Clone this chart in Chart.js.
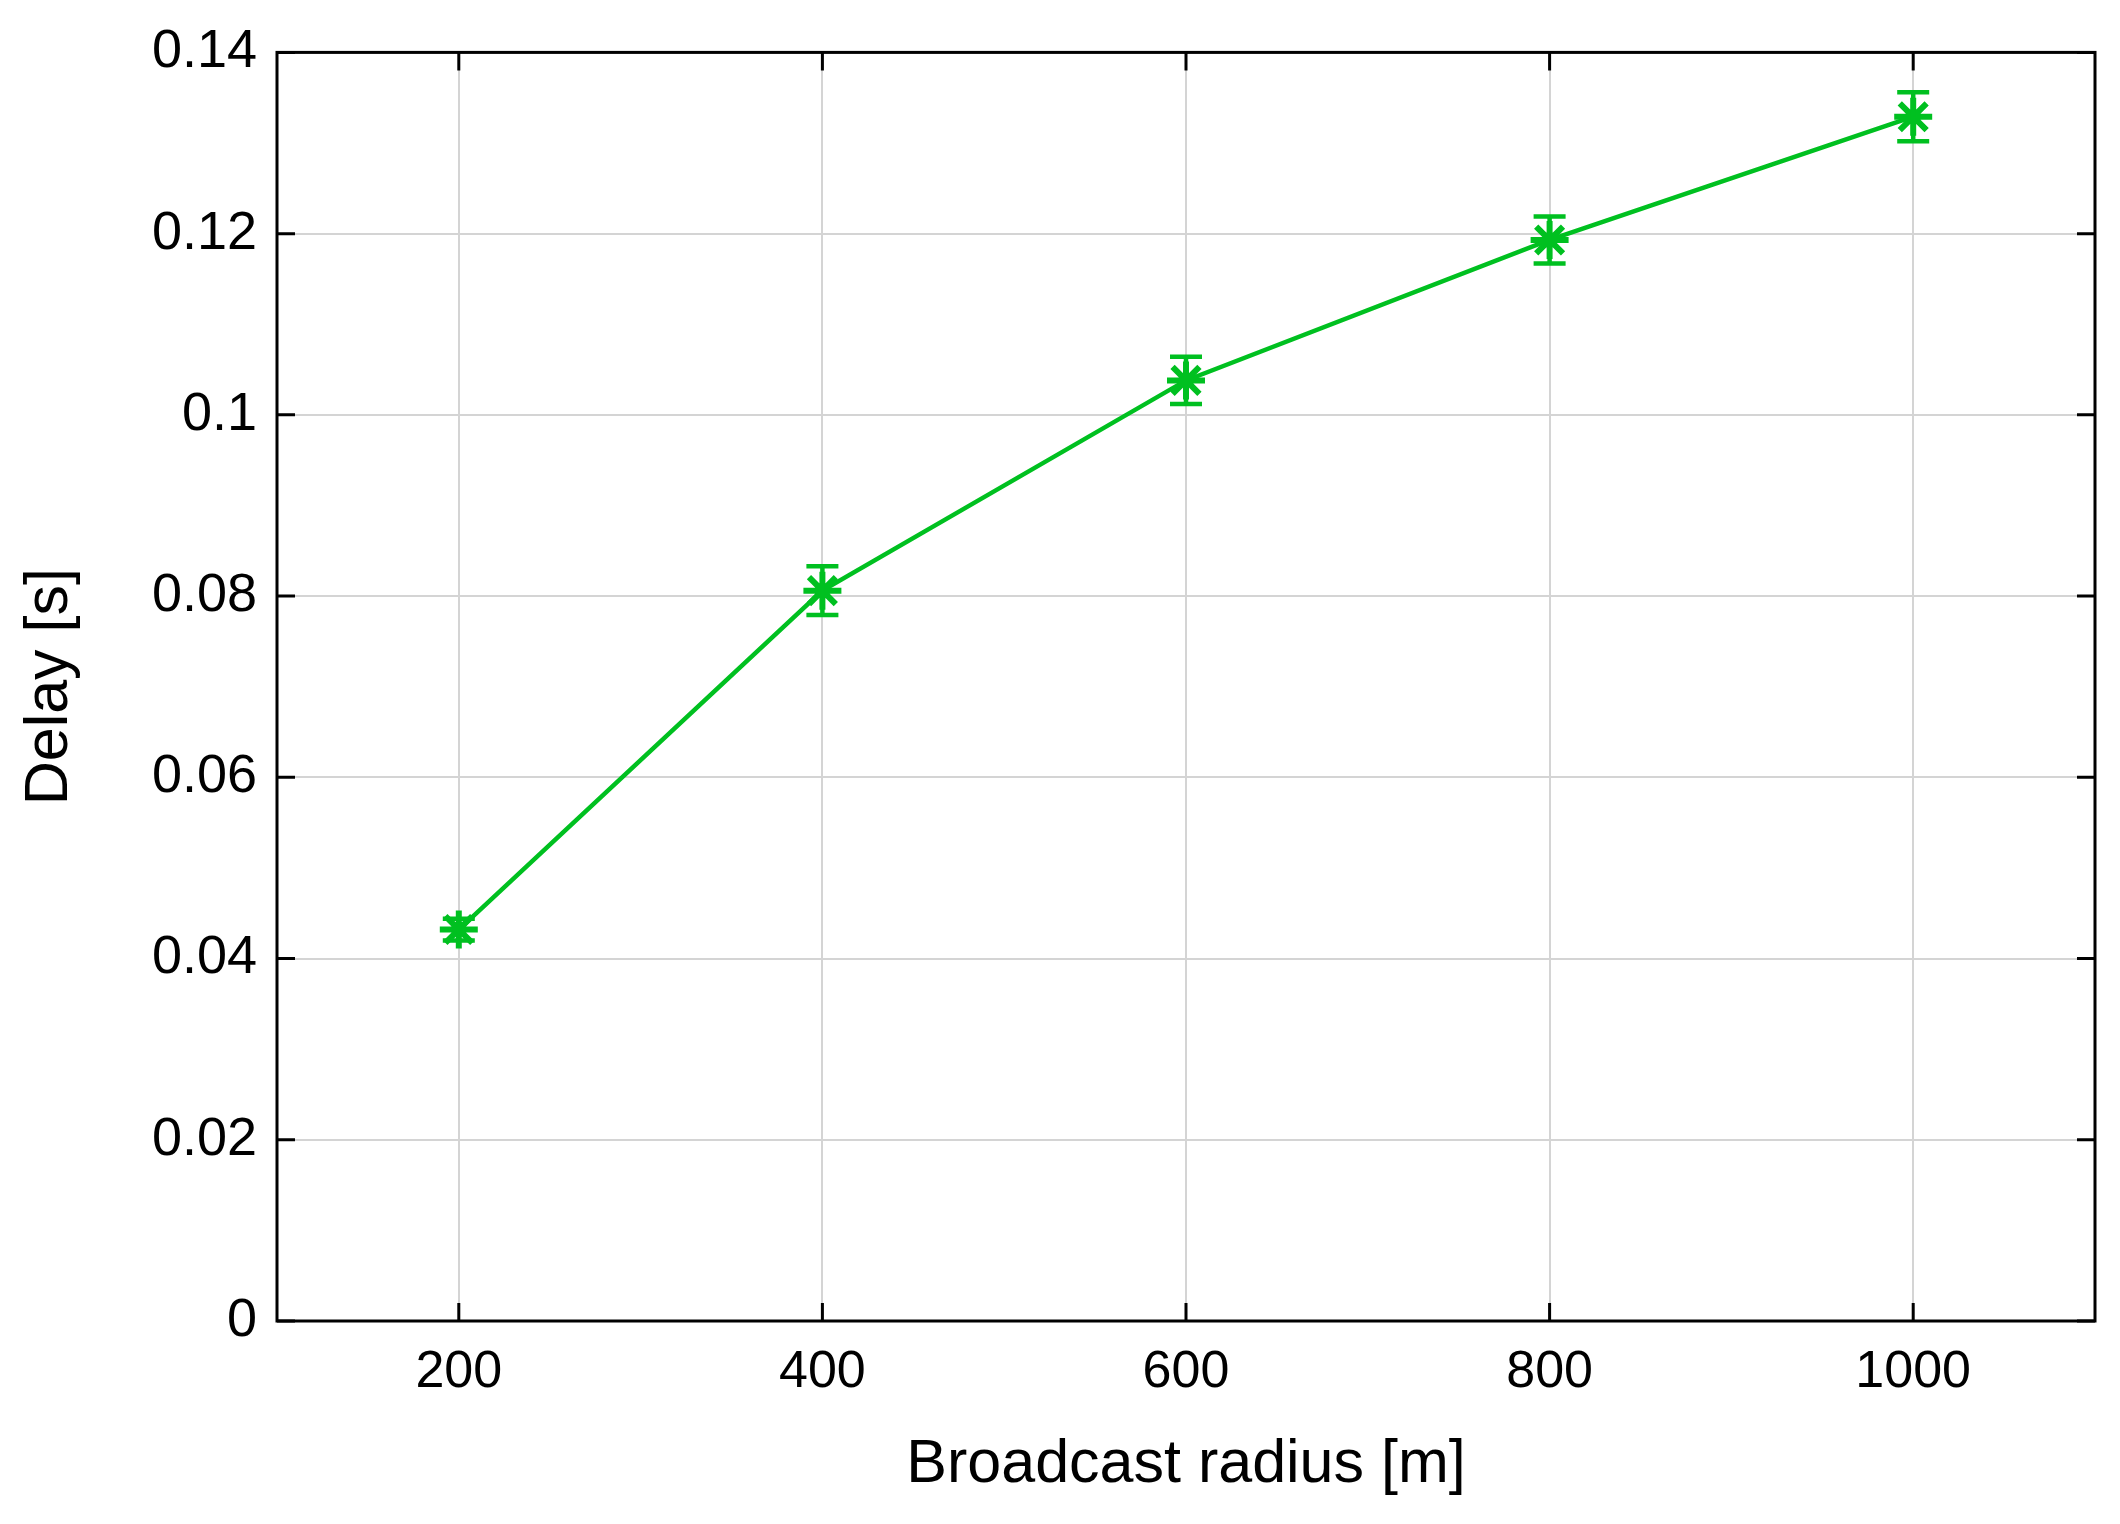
<!DOCTYPE html>
<html>
<head>
<meta charset="utf-8">
<script src="https://cdn.jsdelivr.net/npm/chart.js@4"></script>
<style>
  html, body { margin: 0; padding: 0; background: #fff; }
  #wrap { width: 2120px; height: 1524px; }
</style>
</head>
<body>
<div id="wrap"><canvas id="chart"></canvas></div>
<script>
// data
const radius = [200, 400, 600, 800, 1000];
const delay = [0.0432, 0.0806, 0.1038, 0.1193, 0.1329];
const delayErr = [0.0012, 0.0027, 0.0026, 0.0026, 0.0027];
const xTicks = [200, 400, 600, 800, 1000];

const green = 'rgb(0,192,32)';

// error bars + gnuplot-like border and inward ticks
const extras = {
  id: 'extras',
  afterDatasetsDraw(chart) {
    const ctx = chart.ctx, x = chart.scales.x, y = chart.scales.y;
    ctx.save();
    ctx.strokeStyle = green;
    ctx.lineWidth = 4.5;
    radius.forEach((r, i) => {
      const px = x.getPixelForValue(r);
      const top = y.getPixelForValue(delay[i] + delayErr[i]);
      const bot = y.getPixelForValue(delay[i] - delayErr[i]);
      ctx.beginPath();
      ctx.moveTo(px, top); ctx.lineTo(px, bot);
      ctx.moveTo(px - 16, top); ctx.lineTo(px + 16, top);
      ctx.moveTo(px - 16, bot); ctx.lineTo(px + 16, bot);
      ctx.stroke();
    });
    const a = chart.chartArea;
    ctx.strokeStyle = '#000';
    ctx.lineWidth = 3;
    ctx.beginPath();
    y.ticks.forEach(t => {
      const py = y.getPixelForValue(t.value);
      ctx.moveTo(a.left, py); ctx.lineTo(a.left + 18, py);
      ctx.moveTo(a.right, py); ctx.lineTo(a.right - 18, py);
    });
    xTicks.forEach(v => {
      const px = x.getPixelForValue(v);
      ctx.moveTo(px, a.bottom); ctx.lineTo(px, a.bottom - 18);
      ctx.moveTo(px, a.top); ctx.lineTo(px, a.top + 18);
    });
    ctx.stroke();
    ctx.strokeRect(a.left, a.top, a.right - a.left, a.bottom - a.top);
    ctx.restore();
  }
};

new Chart(document.getElementById('chart'), {
  type: 'line',
  data: {
    datasets: [{
      data: radius.map((r, i) => ({ x: r, y: delay[i] })),
      borderColor: green,
      backgroundColor: green,
      borderWidth: 4.5,
      pointStyle: 'star',
      pointRadius: 19,
      pointBorderWidth: 6,
      tension: 0
    }]
  },
  options: {
    responsive: true,
    maintainAspectRatio: false,
    animation: false,
    layout: { padding: { top: 36, right: 18 } },
    plugins: { legend: { display: false }, tooltip: { enabled: false } },
    scales: {
      x: {
        type: 'linear', min: 100, max: 1100,
        afterBuildTicks: s => { s.ticks = xTicks.map(v => ({ value: v })); },
        afterFit: s => { s.height = 203; },
        grid: { color: '#d4d4d4', lineWidth: 2, drawTicks: false },
        border: { display: false },
        ticks: { color: '#000', padding: 20, font: { family: 'Liberation Sans', size: 52 },
                 callback: v => String(v) },
        title: { display: true, text: 'Broadcast radius [m]', color: '#000', padding: { top: 10, bottom: 22 },
                 font: { family: 'Liberation Sans', size: 61 } }
      },
      y: {
        min: 0, max: 0.14,
        afterFit: s => { s.width = 277; },
        grid: { color: '#d4d4d4', lineWidth: 2, drawTicks: false },
        border: { display: false },
        ticks: { stepSize: 0.02, color: '#000', padding: 20,
                 font: { family: 'Liberation Sans', size: 54 },
                 callback: v => String(Number(v.toFixed(2))) },
        title: { display: true, text: 'Delay [s]', color: '#000', padding: { top: 14 },
                 font: { family: 'Liberation Sans', size: 61 } }
      }
    }
  },
  plugins: [extras]
});
</script>
</body>
</html>
